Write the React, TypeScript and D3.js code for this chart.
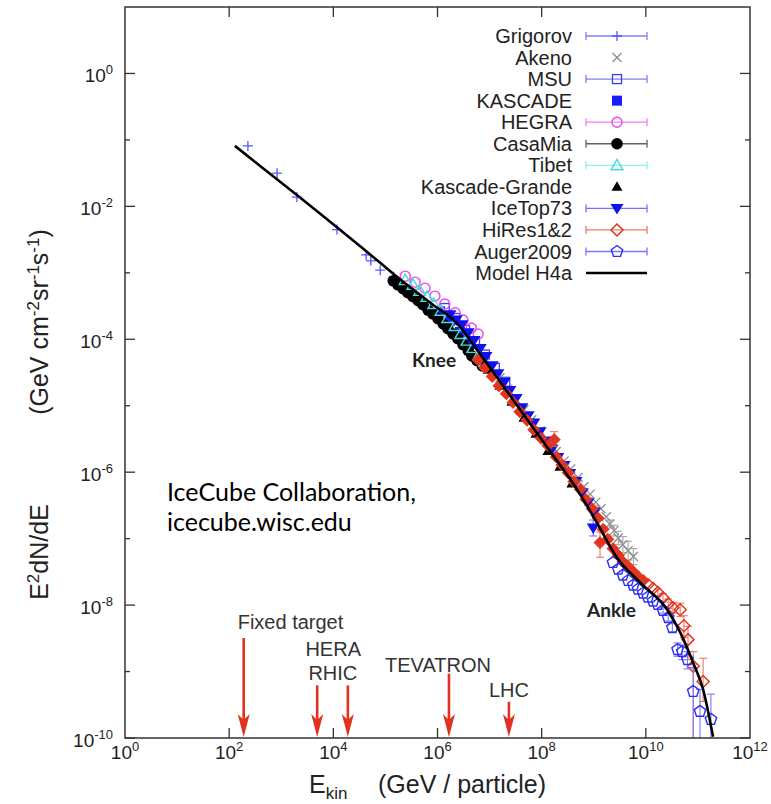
import React from 'react';
import * as d3 from 'd3';

// ---------- data (log10 of E [GeV] and log10 of E^2 dN/dE) ----------
const modelLogE = [2.11, 3.30, 4.90, 5.22, 5.86, 6.43, 6.62, 7.01, 7.78, 8.22, 8.68, 9.06, 9.45, 9.89, 10.41, 10.66, 10.91, 11.10, 11.29];
const modelLogF = [-1.09, -1.83, -2.85, -3.06, -3.45, -3.81, -4.01, -4.43, -5.27, -5.75, -6.26, -6.76, -7.29, -7.66, -8.07, -8.41, -8.87, -9.27, -9.98];

const grigorovLogE = [2.36, 2.92, 3.30, 4.07, 4.63, 4.72, 4.90, 5.16];
const grigorovLogF = [-1.09, -1.50, -1.86, -2.35, -2.73, -2.82, -2.96, -3.06];

const akenoLogE = [7.20, 7.35, 7.51, 7.66, 7.81, 7.97, 8.12, 8.28, 8.43, 8.56, 8.70, 8.81, 8.93, 9.04, 9.14, 9.24, 9.31, 9.39, 9.47, 9.56, 9.66, 9.76];
const akenoLogF = [-4.58, -4.75, -4.91, -5.06, -5.21, -5.38, -5.54, -5.69, -5.83, -5.95, -6.08, -6.22, -6.33, -6.45, -6.55, -6.67, -6.78, -6.88, -6.99, -7.09, -7.18, -7.27];
const akenoErr = [0, 0, 0, 0, 0, 0, 0, 0, 0, 0, 0, 0, 0, 0, 0, 0, 0.06, 0.08, 0.1, 0.12, 0.14, 0.12];

const msuLogE = [6.14, 6.34, 6.53, 6.72, 6.91, 7.10, 7.30];
const msuLogF = [-3.53, -3.68, -3.86, -4.04, -4.23, -4.43, -4.64];

const kascadeLogE = [6.05, 6.24, 6.43, 6.62];
const kascadeLogF = [-3.58, -3.72, -3.89, -4.07];

const hegraLogE = [5.38, 5.57, 5.76, 5.95, 6.14, 6.34, 6.49, 6.65, 6.78];
const hegraLogF = [-3.05, -3.14, -3.23, -3.35, -3.47, -3.60, -3.71, -3.83, -3.92];

const casaMiaLogE = [5.15, 5.24, 5.34, 5.43, 5.53, 5.63, 5.72, 5.82, 5.91, 6.01, 6.11, 6.20, 6.30, 6.39, 6.49, 6.59, 6.66, 6.76, 6.86];
const casaMiaLogF = [-3.12, -3.18, -3.24, -3.30, -3.36, -3.42, -3.48, -3.56, -3.62, -3.69, -3.77, -3.84, -3.92, -3.99, -4.08, -4.17, -4.25, -4.32, -4.40];

const tibetLogE = [5.38, 5.53, 5.66, 5.80, 5.93, 6.07, 6.20, 6.34, 6.45, 6.57, 6.68, 6.80, 6.91];
const tibetLogF = [-3.11, -3.18, -3.27, -3.36, -3.47, -3.57, -3.68, -3.80, -3.92, -4.02, -4.13, -4.23, -4.34];

const grandeLogE = [6.97, 7.20, 7.43, 7.66, 7.89, 8.12, 8.35, 8.58];
const grandeLogF = [-4.46, -4.70, -4.94, -5.18, -5.42, -5.68, -5.92, -6.17];

const iceTopLogE = [6.24, 6.36, 6.47, 6.59, 6.70, 6.82, 6.93, 7.05, 7.16, 7.28, 7.39, 7.51, 7.62, 7.74, 7.85, 7.97, 8.08, 8.20, 8.31, 8.43, 8.54, 8.66, 8.78, 8.89, 9.01, 8.99];
const iceTopLogF = [-3.63, -3.71, -3.78, -3.90, -4.02, -4.14, -4.26, -4.40, -4.52, -4.65, -4.77, -4.89, -5.03, -5.15, -5.26, -5.39, -5.53, -5.65, -5.78, -5.90, -6.02, -6.14, -6.31, -6.46, -6.60, -6.84];
const iceTopErr = [0, 0, 0, 0, 0, 0, 0, 0, 0, 0, 0, 0, 0, 0, 0, 0, 0, 0, 0, 0, 0, 0, 0, 0.04, 0.06, 0.12];

const hiResLogE = [6.78, 6.91, 7.05, 7.18, 7.32, 7.45, 7.58, 7.72, 7.85, 7.99, 8.12, 8.24, 8.28, 8.39, 8.51, 8.62, 8.74, 8.85, 8.97, 9.08, 9.12, 9.18, 9.27, 9.37, 9.47, 9.56, 9.66, 9.76, 9.85, 9.95, 10.04, 10.14, 10.23, 10.33, 10.43, 10.52, 10.66, 10.73, 10.81, 10.91, 11.10];
const hiResLogF = [-4.31, -4.43, -4.56, -4.70, -4.82, -4.95, -5.09, -5.22, -5.36, -5.49, -5.60, -5.51, -5.77, -5.89, -6.01, -6.14, -6.26, -6.41, -6.55, -6.69, -7.06, -6.86, -7.01, -7.15, -7.25, -7.35, -7.42, -7.50, -7.57, -7.63, -7.69, -7.75, -7.81, -7.89, -7.98, -8.04, -8.07, -8.31, -8.52, -8.92, -9.15];
const hiResErrUp = [0, 0, 0, 0, 0, 0, 0, 0, 0, 0, 0, 0.12, 0, 0, 0, 0, 0, 0, 0, 0, 0.16, 0, 0, 0, 0, 0, 0, 0, 0, 0, 0, 0, 0.05, 0.06, 0.07, 0.08, 0.1, 0.15, 0.2, 0.22, 0.35];
const hiResErrDown = [0, 0, 0, 0, 0, 0, 0, 0, 0, 0, 0, 0.1, 0, 0, 0, 0, 0, 0, 0, 0, 0.22, 0, 0, 0, 0, 0, 0, 0, 0, 0, 0, 0, 0.05, 0.06, 0.07, 0.08, 0.1, 0.18, 0.3, 2.0, 0.3];

const augerLogE = [9.37, 9.47, 9.56, 9.66, 9.76, 9.85, 9.95, 10.04, 10.14, 10.23, 10.33, 10.43, 10.51, 10.61, 10.70, 10.80, 10.91, 11.04, 11.25];
const augerLogF = [-7.36, -7.46, -7.55, -7.63, -7.70, -7.76, -7.82, -7.88, -7.94, -7.99, -8.08, -8.19, -8.34, -8.67, -8.70, -8.82, -9.30, -9.60, -9.72];
const augerErrUp = [0, 0, 0, 0, 0, 0, 0, 0, 0, 0, 0.04, 0.05, 0.06, 0.1, 0.1, 0.12, 0.36, 0.33, 0.38];
const augerErrDown = [0, 0, 0, 0, 0, 0, 0, 0, 0, 0, 0.04, 0.05, 0.06, 0.1, 0.12, 0.14, 2.0, 2.0, 2.0];

const colliderNames = ['Fixed target', 'HERA', 'RHIC', 'TEVATRON', 'LHC'];
const colliderEnergy = [1.9e2, 4.9e3, 1.9e4, 1.66e6, 2.35e7];
const colliderArrowTop = [3.2e-9, 6.2e-10, 6.2e-10, 9.3e-10, 3.5e-10];

const xTickExps = [0, 2, 4, 6, 8, 10, 12];
const yTickExps = [-10, -8, -6, -4, -2, 0];
const yMinorExps = [-9, -7, -5, -3, -1];

// ---------- layout ----------
const L = 125, R = 750, T = 7, B = 738;
const FONT = '"Liberation Sans", Arial, Helvetica, sans-serif';

type Kind = 'plus' | 'cross' | 'sqOpen' | 'sqFill' | 'circOpen' | 'circFill' | 'triUpOpen' | 'triUpFill' | 'triDownFill' | 'diamondFill' | 'diamondOpen' | 'pentOpen';

function marker(kind: Kind, cx: number, cy: number, color: string, key: string | number) {
  switch (kind) {
    case 'plus':
      return <path key={key} d={`M${cx - 5},${cy}H${cx + 5}M${cx},${cy - 5}V${cy + 5}`} stroke={color} strokeWidth={1.3} fill="none" />;
    case 'cross': {
      const s = 4.5;
      return <path key={key} d={`M${cx - s},${cy - s}L${cx + s},${cy + s}M${cx - s},${cy + s}L${cx + s},${cy - s}`} stroke={color} strokeWidth={1.3} fill="none" />;
    }
    case 'sqOpen':
      return <rect key={key} x={cx - 4.5} y={cy - 4.5} width={9} height={9} fill="none" stroke={color} strokeWidth={1.3} />;
    case 'sqFill':
      return <rect key={key} x={cx - 5} y={cy - 5} width={10} height={10} fill={color} />;
    case 'circOpen':
      return <circle key={key} cx={cx} cy={cy} r={5} fill="none" stroke={color} strokeWidth={1.4} />;
    case 'circFill':
      return <circle key={key} cx={cx} cy={cy} r={5.8} fill={color} />;
    case 'triUpOpen':
      return <polygon key={key} points={`${cx},${cy - 6} ${cx + 6},${cy + 4.5} ${cx - 6},${cy + 4.5}`} fill="none" stroke={color} strokeWidth={1.4} />;
    case 'triUpFill':
      return <polygon key={key} points={`${cx},${cy - 5.5} ${cx + 5.5},${cy + 4} ${cx - 5.5},${cy + 4}`} fill={color} />;
    case 'triDownFill':
      return <polygon key={key} points={`${cx},${cy + 6} ${cx + 6.5},${cy - 4.5} ${cx - 6.5},${cy - 4.5}`} fill={color} />;
    case 'diamondFill':
      return <polygon key={key} points={`${cx},${cy - 6} ${cx + 6},${cy} ${cx},${cy + 6} ${cx - 6},${cy}`} fill={color} stroke={color} strokeWidth={1} />;
    case 'diamondOpen':
      return <polygon key={key} points={`${cx},${cy - 6} ${cx + 6},${cy} ${cx},${cy + 6} ${cx - 6},${cy}`} fill="none" stroke={color} strokeWidth={1.5} />;
    case 'pentOpen': {
      const pts = d3.range(5).map(k => {
        const a = -Math.PI / 2 + (k * 2 * Math.PI) / 5;
        return `${cx + 6 * Math.cos(a)},${cy + 6 * Math.sin(a)}`;
      }).join(' ');
      return <polygon key={key} points={pts} fill="none" stroke={color} strokeWidth={1.4} />;
    }
  }
  return null;
}

interface Series {
  name: string;
  logE: number[];
  logF: number[];
  kind: Kind;
  openKind?: Kind;
  openFrom?: number;
  color: string;
  barColor: string;
  legendBar: boolean;
  legendKind?: Kind;
  errUp?: number[];
  errDown?: number[];
}

const series: Series[] = [
  { name: 'Grigorov', logE: grigorovLogE, logF: grigorovLogF, kind: 'plus', color: '#5656ff', barColor: '#8080ff', legendBar: true },
  { name: 'Akeno', logE: akenoLogE, logF: akenoLogF, kind: 'cross', color: '#8c8c8c', barColor: '#a8a8a8', legendBar: false, errUp: akenoErr, errDown: akenoErr },
  { name: 'MSU', logE: msuLogE, logF: msuLogF, kind: 'sqOpen', color: '#3a3aff', barColor: '#8080ff', legendBar: true },
  { name: 'KASCADE', logE: kascadeLogE, logF: kascadeLogF, kind: 'sqFill', color: '#1a1aff', barColor: '#8080ff', legendBar: false },
  { name: 'HEGRA', logE: hegraLogE, logF: hegraLogF, kind: 'circOpen', color: '#ee44ee', barColor: '#f080f0', legendBar: true },
  { name: 'CasaMia', logE: casaMiaLogE, logF: casaMiaLogF, kind: 'circFill', color: '#000000', barColor: '#606060', legendBar: true },
  { name: 'Tibet', logE: tibetLogE, logF: tibetLogF, kind: 'triUpOpen', color: '#45dede', barColor: '#90f0f0', legendBar: true },
  { name: 'Kascade-Grande', logE: grandeLogE, logF: grandeLogF, kind: 'triUpFill', color: '#000000', barColor: '#606060', legendBar: false },
  { name: 'IceTop73', logE: iceTopLogE, logF: iceTopLogF, kind: 'triDownFill', color: '#1010f0', barColor: '#7070ff', legendBar: true, errUp: iceTopErr, errDown: iceTopErr },
  { name: 'HiRes1&2', logE: hiResLogE, logF: hiResLogF, kind: 'diamondFill', openKind: 'diamondOpen', openFrom: 10.0, color: '#e2351f', barColor: '#ee7868', legendBar: true, legendKind: 'diamondOpen', errUp: hiResErrUp, errDown: hiResErrDown },
  { name: 'Auger2009', logE: augerLogE, logF: augerLogF, kind: 'pentOpen', color: '#2f2fef', barColor: '#7878ff', legendBar: true, errUp: augerErrUp, errDown: augerErrDown },
];

export default function App() {
  const x = d3.scaleLog().domain([1, 1e12]).range([L, R]);
  const y = d3.scaleLog().domain([1e-10, 10]).range([B, T]);
  const px = (le: number) => x(Math.pow(10, le));
  const py = (lf: number) => y(Math.pow(10, lf));

  const modelPts: [number, number][] = modelLogE.map((e, i) => [px(e), py(modelLogF[i])]);
  const modelPath = d3.line().curve(d3.curveMonotoneX)(modelPts) || '';

  const legendX = 572, sampleL = 586, sampleR = 647, sampleC = 617;
  const legendY0 = 36, legendDY = 21.55;

  const arrowLayout = [
    { dx: -6, dy: -9, anchor: 'start' },
    { dx: 16, dy: -29, anchor: 'middle' },
    { dx: -15, dy: -5, anchor: 'middle' },
    { dx: -11, dy: -2, anchor: 'middle' },
    { dx: 0, dy: -5, anchor: 'middle' },
  ];

  return (
    <svg width={771} height={804} style={{ position: 'absolute', left: 0, top: 0, background: '#fff' }} fontFamily={FONT}>
      <defs>
        <clipPath id="plotClip">
          <rect x={L} y={T} width={R - L} height={B - T} />
        </clipPath>
      </defs>
      <rect x={0} y={0} width={771} height={804} fill="#fff" />

      {/* data */}
      <g clipPath="url(#plotClip)">
        {series.map(s => (
          <g key={s.name}>
            {s.logE.map((e, i) => {
              const up = s.errUp ? s.errUp[i] : 0;
              const dn = s.errDown ? s.errDown[i] : 0;
              if (!up && !dn) return null;
              const cx = px(e);
              const y1 = py(s.logF[i] + up);
              const y2 = py(s.logF[i] - dn);
              return (
                <g key={'e' + i} stroke={s.barColor} strokeWidth={1.1}>
                  <line x1={cx} x2={cx} y1={y1} y2={y2} />
                  <line x1={cx - 4} x2={cx + 4} y1={y1} y2={y1} />
                  <line x1={cx - 4} x2={cx + 4} y1={y2} y2={y2} />
                </g>
              );
            })}
            {s.logE.map((e, i) => {
              const k = s.openKind && s.openFrom !== undefined && e >= s.openFrom ? s.openKind : s.kind;
              return marker(k, px(e), py(s.logF[i]), s.color, i);
            })}
          </g>
        ))}
        <path d={modelPath} fill="none" stroke="#000" strokeWidth={2.6} />
      </g>

      {/* collider arrows */}
      {colliderNames.map((n, i) => {
        const ax = x(colliderEnergy[i]);
        const top = y(colliderArrowTop[i]);
        const lay = arrowLayout[i];
        return (
          <g key={n}>
            <line x1={ax} x2={ax} y1={top} y2={B - 16} stroke="#e0321e" strokeWidth={2.6} />
            <polygon points={`${ax - 6},${B - 24} ${ax},${B - 1} ${ax + 6},${B - 24} ${ax},${B - 18}`} fill="#e0321e" />
            <text x={ax + lay.dx} y={top + lay.dy} textAnchor={lay.anchor as any} fontSize={20} fill="#333">{n}</text>
          </g>
        );
      })}

      {/* frame */}
      <rect x={L} y={T} width={R - L} height={B - T} fill="none" stroke="#333" strokeWidth={1.5} />

      {/* ticks */}
      <g stroke="#333" strokeWidth={1.3}>
        {xTickExps.slice(1, -1).map(ex => {
          const tx = x(Math.pow(10, ex));
          return (
            <g key={'xt' + ex}>
              <line x1={tx} x2={tx} y1={B} y2={B - 10} />
              <line x1={tx} x2={tx} y1={T} y2={T + 10} />
            </g>
          );
        })}
        {yTickExps.map(ex => {
          const ty = y(Math.pow(10, ex));
          return (
            <g key={'yt' + ex}>
              <line x1={L} x2={L + 10} y1={ty} y2={ty} />
              <line x1={R} x2={R - 10} y1={ty} y2={ty} />
            </g>
          );
        })}
        {yMinorExps.map(ex => {
          const ty = y(Math.pow(10, ex));
          return (
            <g key={'ym' + ex}>
              <line x1={L} x2={L + 5} y1={ty} y2={ty} />
              <line x1={R} x2={R - 5} y1={ty} y2={ty} />
            </g>
          );
        })}
      </g>

      {/* tick labels */}
      {xTickExps.map(ex => (
        <text key={'xl' + ex} x={x(Math.pow(10, ex))} y={B + 21} textAnchor="middle" fontSize={19} fill="#222">
          10<tspan dy={-8} fontSize={13}>{ex}</tspan>
        </text>
      ))}
      {yTickExps.map(ex => (
        <text key={'yl' + ex} x={113} y={y(Math.pow(10, ex)) + 9} textAnchor="end" fontSize={19} fill="#222">
          10<tspan dy={-8} fontSize={13}>{ex}</tspan>
        </text>
      ))}

      {/* axis titles */}
      <text x={309} y={793} fontSize={25} fill="#222">
        E<tspan dy={6} fontSize={17}>kin</tspan>
        <tspan x={378} dy={-6}>(GeV / particle)</tspan>
      </text>
      <text transform="translate(48,552) rotate(-90)" textAnchor="middle" fontSize={25} fill="#222">
        E<tspan dy={-9} fontSize={17}>2</tspan><tspan dy={9}>dN/dE</tspan>
      </text>
      <text transform="translate(48,322) rotate(-90)" textAnchor="middle" fontSize={25} fill="#222">
        (GeV cm<tspan dy={-9} fontSize={17}>-2</tspan><tspan dy={9}>sr</tspan><tspan dy={-9} fontSize={17}>-1</tspan><tspan dy={9}>s</tspan><tspan dy={-9} fontSize={17}>-1</tspan><tspan dy={9}>)</tspan>
      </text>

      {/* legend */}
      {series.map((s, i) => {
        const cy = legendY0 + i * legendDY;
        return (
          <g key={'lg' + s.name}>
            <text x={legendX} y={cy + 7} textAnchor="end" fontSize={20} fill="#222">{s.name}</text>
            {s.legendBar && (
              <g stroke={s.barColor} strokeWidth={1.3}>
                <line x1={sampleL} x2={sampleR} y1={cy} y2={cy} />
                <line x1={sampleL} x2={sampleL} y1={cy - 4} y2={cy + 4} />
                <line x1={sampleR} x2={sampleR} y1={cy - 4} y2={cy + 4} />
              </g>
            )}
            {marker(s.legendKind || s.kind, sampleC, cy, s.color, 'm')}
          </g>
        );
      })}
      <g>
        <text x={legendX} y={legendY0 + series.length * legendDY + 7} textAnchor="end" fontSize={20} fill="#222">Model H4a</text>
        <line x1={sampleL} x2={sampleR} y1={legendY0 + series.length * legendDY} y2={legendY0 + series.length * legendDY} stroke="#000" strokeWidth={2.6} />
      </g>

      {/* annotations */}
      <text x={412} y={367} fontFamily="Lato, 'Open Sans', sans-serif" fontWeight="bold" fontSize={19} fill="#222">Knee</text>
      <text x={587} y={617} fontFamily="Lato, 'Open Sans', sans-serif" fontWeight="bold" fontSize={19} fill="#222">Ankle</text>
      <text x={167} y={501} fontFamily="Lato, 'Open Sans', sans-serif" fontSize={25} fill="#000">IceCube Collaboration,</text>
      <text x={167} y={531} fontFamily="Lato, 'Open Sans', sans-serif" fontSize={25} fill="#000">icecube.wisc.edu</text>
    </svg>
  );
}
